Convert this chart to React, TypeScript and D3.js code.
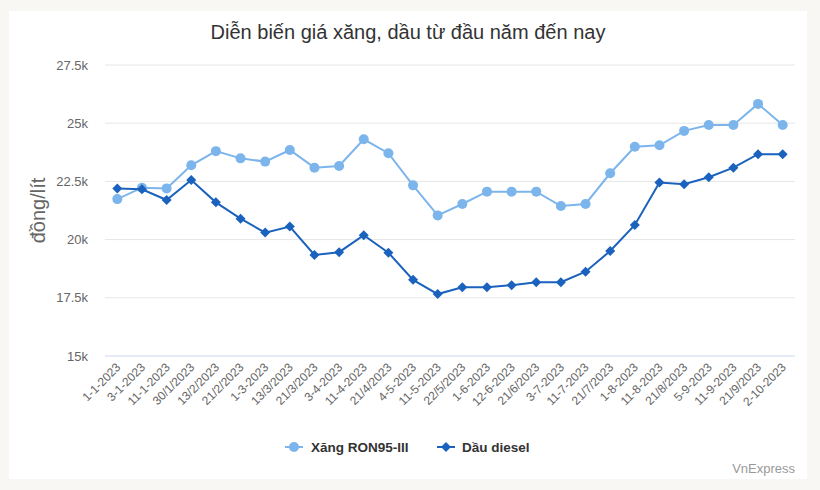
import React from "react";
import * as d3 from "d3";

const categories = ["1-1-2023","3-1-2023","11-1-2023","30/1/2023","13/2/2023","21/2/2023","1-3-2023","13/3/2023","21/3/2023","3-4-2023","11-4-2023","21/4/2023","4-5-2023","11-5-2023","22/5/2023","1-6-2023","12-6-2023","21/6/2023","3-7-2023","11-7-2023","21/7/2023","1-8-2023","11-8-2023","21/8/2023","5-9-2023","11-9-2023","21/9/2023","2-10-2023"];
const xangValues = [21740,22230,22200,23190,23800,23490,23350,23850,23090,23160,24310,23710,22330,21040,21530,22060,22060,22060,21440,21530,22850,23990,24050,24670,24920,24920,25830,24920];
const dieselValues = [22200,22160,21700,22560,21600,20900,20300,20560,19340,19460,20190,19440,18270,17660,17950,17950,18040,18170,18170,18620,19510,20630,22450,22380,22680,23090,23670,23670];
const yTicks = [15000,17500,20000,22500,25000,27500];
const yTickLabels = ["15k","17.5k","20k","22.5k","25k","27.5k"];
const seriesNames = ["Xăng RON95-III","Dầu diesel"];

const W = 820, H = 490;
const plot = { left: 105, right: 795, top: 65, bottom: 356 };
const xColor = "#7cb5ec";
const dColor = "#1a62bd";
const font = "'Liberation Sans', Arial, sans-serif";

export default function App() {
  const x = d3.scalePoint<string>().domain(categories).range([plot.left, plot.right]).padding(0.5);
  const y = d3.scaleLinear().domain([15000, 27500]).range([plot.bottom, plot.top]);
  const line = d3.line<number>().x((_, i) => x(categories[i]) as number).y(d => y(d));
  const diamond = (cx: number, cy: number, r: number) => `M${cx},${cy - r}L${cx + r},${cy}L${cx},${cy + r}L${cx - r},${cy}Z`;

  return (
    <div style={{ position: "absolute", left: 0, top: 0, width: W, height: H }}>
      <svg width={W} height={H} style={{ display: "block", fontFamily: font }}>
        <rect x={0} y={0} width={W} height={H} fill="#f8f7f3" />
        <rect x={9} y={11} width={798} height={468} fill="#ffffff" />
        <text x={408} y={39} textAnchor="middle" fontSize={20} fill="#333">Diễn biến giá xăng, dầu từ đầu năm đến nay</text>
        {yTicks.map((t, i) => (
          <g key={t}>
            <line x1={plot.left} x2={plot.right} y1={y(t)} y2={y(t)} stroke={i === 0 ? "#ccd6eb" : "#e6e6e6"} strokeWidth={1} />
            <text x={88} y={y(t) + 4.5} textAnchor="end" fontSize={13} fill="#666">{yTickLabels[i]}</text>
          </g>
        ))}
        <text transform={`translate(45,${(plot.top + plot.bottom) / 2}) rotate(-90)`} textAnchor="middle" fontSize={20} fill="#666">đồng/lít</text>
        {categories.map(c => (
          <text key={c} transform={`translate(${(x(c) as number) + 4},${plot.bottom + 12}) rotate(-45)`} textAnchor="end" fontSize={12} fill="#666">{c}</text>
        ))}
        <path d={line(xangValues) ?? ""} fill="none" stroke={xColor} strokeWidth={2} />
        {xangValues.map((v, i) => (
          <circle key={i} cx={x(categories[i]) as number} cy={y(v)} r={5} fill={xColor} />
        ))}
        <path d={line(dieselValues) ?? ""} fill="none" stroke={dColor} strokeWidth={2} />
        {dieselValues.map((v, i) => (
          <path key={i} d={diamond(x(categories[i]) as number, y(v), 5)} fill={dColor} />
        ))}
        <g>
          <line x1={285} x2={303} y1={447} y2={447} stroke={xColor} strokeWidth={2} />
          <circle cx={294} cy={447} r={5} fill={xColor} />
          <text x={311} y={452} fontSize={13.5} fontWeight="bold" fill="#333">{seriesNames[0]}</text>
          <line x1={437} x2={455} y1={447} y2={447} stroke={dColor} strokeWidth={2} />
          <path d={diamond(446, 447, 5)} fill={dColor} />
          <text x={462} y={452} fontSize={13.5} fontWeight="bold" fill="#333">{seriesNames[1]}</text>
        </g>
        <text x={795} y={473} textAnchor="end" fontSize={13} fill="#999">VnExpress</text>
      </svg>
    </div>
  );
}
